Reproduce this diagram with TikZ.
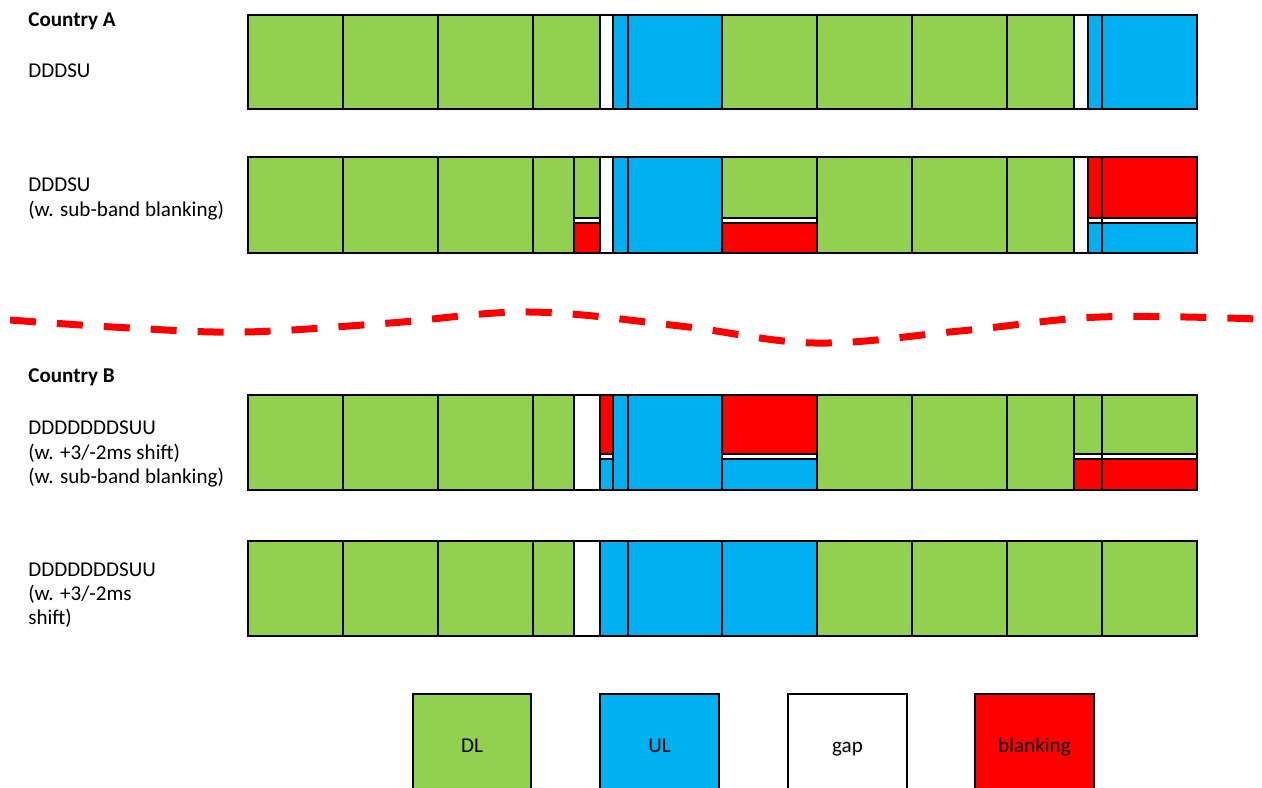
\documentclass[tikz,border=0pt]{standalone}
\usepackage{fontspec}
\setmainfont{Carlito}
\definecolor{dlgreen}{HTML}{92D050}
\definecolor{ulblue}{HTML}{00B0F0}
\definecolor{blankred}{HTML}{FF0000}
\begin{document}
\begin{tikzpicture}[x=0.02cm,y=-0.02cm,
    slot/.style={draw=black,line width=1.4pt},
    dl/.style={slot,fill=dlgreen},
    ul/.style={slot,fill=ulblue},
    gapc/.style={slot,fill=white},
    blank/.style={slot,fill=blankred},
    lbl/.style={anchor=west,inner sep=0pt,align=left,font=\fontsize{12}{13.7}\selectfont},
    legtxt/.style={anchor=base,inner sep=0pt,font=\fontsize{12}{13.7}\selectfont},
    wave/.style={draw=blankred,line width=0.14cm,dash pattern=on 0.52cm off 0.42cm}]
    \useasboundingbox (0,0) rectangle (1262,788);
    \clip (0,0) rectangle (1262,788);
    % labels
    \node[lbl] (ctrya) at (28,21) {\bfseries Country A};
    \node[lbl] (rowa) at (28,71) {DDDSU};
    \node[lbl] (rowab) at (28,199) {DDDSU\\(w. sub-band blanking)};
    \node[lbl] (ctryb) at (28,377) {\bfseries Country B};
    \node[lbl] (rowbb) at (28,454) {DDDDDDDSUU\\(w. +3/-2ms shift)\\(w. sub-band blanking)};
    \node[lbl] (rowb) at (28,595) {DDDDDDDSUU\\(w. +3/-2ms\\shift)};
    % Country A, DDDSU
    \foreach \a/\b in {248/343,343/438,438/533,533/600,722/817,817/912,912/1007,1007/1074}
        \draw[dl] (\a,15) rectangle (\b,109);
    \foreach \a/\b in {613/628,628/722,1088/1102,1102/1197}
        \draw[ul] (\a,15) rectangle (\b,109);
    \draw[gapc] (600,15) rectangle (613,109);
    \draw[gapc] (1074,15) rectangle (1088,109);
    % Country A, DDDSU with sub-band blanking
    \foreach \a/\b in {248/343,343/438,438/533,533/574,817/912,912/1007,1007/1074}
        \draw[dl] (\a,157) rectangle (\b,253);
    \foreach \a/\b in {613/628,628/722}
        \draw[ul] (\a,157) rectangle (\b,253);
    \draw[gapc] (600,157) rectangle (613,253);
    \draw[gapc] (1074,157) rectangle (1088,253);
    \foreach \a/\b/\t/\u in {574/600/dl/blank,722/817/dl/blank,1088/1102/blank/ul,1102/1197/blank/ul} {
        \draw[\t] (\a,157) rectangle (\b,218);
        \draw[gapc] (\a,218) rectangle (\b,223);
        \draw[\u] (\a,223) rectangle (\b,253);
    }
    % separator
    \draw[wave] plot[smooth,tension=0.6] coordinates {(10,320) (130,328) (245,332) (390,323) (530,312) (680,326) (815,343) (960,331) (1100,317) (1258,319)};
    % Country B, shifted with sub-band blanking
    \foreach \a/\b in {248/343,343/438,438/533,533/574,817/912,912/1007,1007/1074}
        \draw[dl] (\a,395) rectangle (\b,490);
    \foreach \a/\b in {613/628,628/722}
        \draw[ul] (\a,395) rectangle (\b,490);
    \draw[gapc] (574,395) rectangle (600,490);
    \foreach \a/\b/\t/\u in {600/613/blank/ul,722/817/blank/ul,1074/1102/dl/blank,1102/1197/dl/blank} {
        \draw[\t] (\a,395) rectangle (\b,454);
        \draw[gapc] (\a,454) rectangle (\b,459);
        \draw[\u] (\a,459) rectangle (\b,490);
    }
    % Country B, shifted
    \foreach \a/\b in {248/343,343/438,438/533,533/574,817/912,912/1007,1007/1102,1102/1197}
        \draw[dl] (\a,541) rectangle (\b,636);
    \foreach \a/\b in {600/628,628/722,722/817}
        \draw[ul] (\a,541) rectangle (\b,636);
    \draw[gapc] (574,541) rectangle (600,636);
    % legend
    \draw[dl] (413,694) rectangle (531,800);
    \draw[ul] (600,694) rectangle (719,800);
    \draw[gapc] (788,694) rectangle (907,800);
    \draw[blank] (975,694) rectangle (1094,800);
    \node[legtxt] (legdl) at (472,752) {DL};
    \node[legtxt] (legul) at (659.5,752) {UL};
    \node[legtxt] (leggap) at (847.5,752) {gap};
    \node[legtxt] (legblank) at (1034.5,752) {blanking};
\end{tikzpicture}
\end{document}
